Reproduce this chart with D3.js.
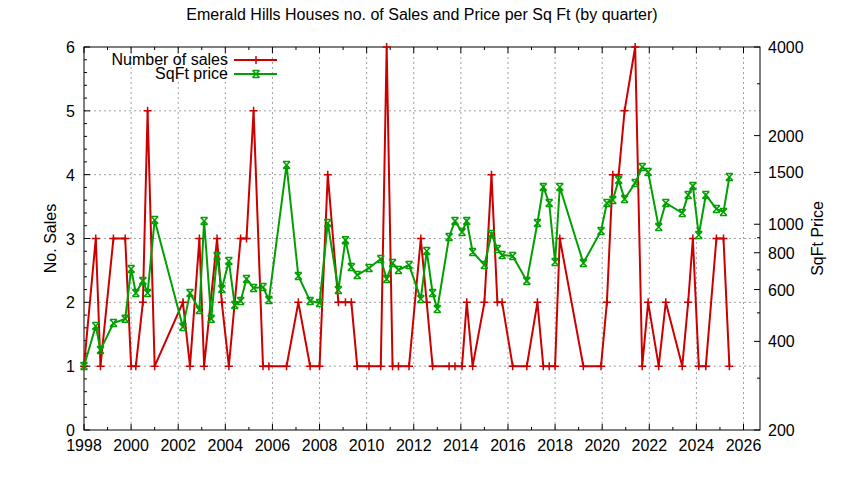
<!DOCTYPE html>
<html><head><meta charset="utf-8">
<script src="https://cdn.jsdelivr.net/npm/d3@7"></script>
<style>body{margin:0;background:#fff}text{font-family:"Liberation Sans",Arial,sans-serif}</style>
</head><body>
<script>
// sales per quarter (decimal year, count)
const saleDates = [1998.0,1998.5,1998.7,1999.25,1999.75,2000.0,2000.2,2000.5,2000.7,2001.0,2002.2,2002.5,2002.9,2003.1,2003.65,2003.85,2004.15,2004.65,2004.9,2005.2,2005.6,2005.85,2006.6,2007.1,2007.6,2008.0,2008.35,2008.8,2009.1,2009.35,2009.6,2010.1,2010.6,2010.85,2011.1,2011.35,2011.8,2012.3,2012.55,2012.8,2013.5,2013.75,2014.05,2014.25,2014.5,2015.0,2015.3,2015.55,2015.75,2016.2,2016.8,2017.25,2017.5,2017.75,2018.0,2018.2,2019.2,2019.95,2020.2,2020.45,2020.7,2020.95,2021.4,2021.7,2021.95,2022.4,2022.7,2023.4,2023.65,2023.85,2024.1,2024.4,2024.85,2025.15,2025.4];
const sales = [1,3,1,3,3,1,1,2,5,1,2,1,3,1,3,2,1,3,3,5,1,1,1,2,1,1,4,2,2,2,1,1,1,6,1,1,1,3,2,1,1,1,1,2,1,2,4,2,2,1,1,2,1,1,1,3,1,1,2,4,4,5,6,1,2,1,2,1,2,3,1,1,3,3,1];

const priceDates = [1998.0,1998.5,1998.7,1999.25,1999.75,2000.0,2000.2,2000.5,2000.7,2001.0,2002.2,2002.5,2002.9,2003.1,2003.4,2003.65,2003.85,2004.15,2004.4,2004.65,2004.9,2005.2,2005.6,2005.85,2006.6,2007.1,2007.6,2008.0,2008.35,2008.8,2009.1,2009.35,2009.6,2010.1,2010.6,2010.85,2011.1,2011.35,2011.8,2012.3,2012.55,2012.8,2013.0,2013.5,2013.75,2014.05,2014.25,2014.5,2015.0,2015.3,2015.55,2015.75,2016.2,2016.8,2017.25,2017.5,2017.75,2018.0,2018.2,2019.2,2019.95,2020.2,2020.45,2020.7,2020.95,2021.4,2021.7,2021.95,2022.4,2022.7,2023.4,2023.65,2023.85,2024.1,2024.4,2024.85,2025.15,2025.4];
const prices = [330,451,374,462,477,705,584,642,584,1034,448,584,511,1026,477,780,603,750,532,549,652,607,612,553,1590,667,549,540,1010,598,883,716,672,710,762,652,738,699,727,557,811,584,515,905,1026,941,1026,805,727,927,824,786,780,642,1010,1338,1181,744,1338,738,949,1181,1208,1413,1218,1380,1565,1505,979,1181,1092,1257,1349,919,1257,1127,1101,1447];

const xTicks = d3.range(1998, 2027, 2);
const leftTicks = [0,1,2,3,4,5,6];
const rightTicks = [200,400,600,800,1000,1500,2000,4000];

const W = 844, H = 480;
const L = 84, R = 760, T = 47, B = 430;

const svg = d3.select('body').append('svg').attr('width', W).attr('height', H);

const x = d3.scaleLinear().domain([1998, 2026.7]).range([L, R]);
const yL = d3.scaleLinear().domain([0, 6]).range([B, T]);
const yR = d3.scaleLog().domain([200, 4000]).range([B, T]);

// grid
const grid = svg.append('g').attr('stroke', '#a0a0a0').attr('stroke-dasharray', '2,3').attr('stroke-width', 1);
xTicks.slice(1).forEach(t => grid.append('line').attr('x1', x(t)).attr('x2', x(t)).attr('y1', T).attr('y2', B));
leftTicks.slice(1, -1).forEach(t => grid.append('line').attr('x1', L).attr('x2', R).attr('y1', yL(t)).attr('y2', yL(t)));

// frame
svg.append('rect').attr('x', L).attr('y', T).attr('width', R - L).attr('height', B - T)
    .attr('fill', 'none').attr('stroke', '#000');

const ticks = svg.append('g').attr('stroke', '#000');
d3.range(1998, 2027).forEach(t => {
    const len = t % 2 === 0 ? 6 : 3;
    ticks.append('line').attr('x1', x(t)).attr('x2', x(t)).attr('y1', B).attr('y2', B - len);
    ticks.append('line').attr('x1', x(t)).attr('x2', x(t)).attr('y1', T).attr('y2', T + len);
});
d3.range(0, 6.01, 0.2).forEach(t => {
    const major = Math.abs(t - Math.round(t)) < 1e-6;
    ticks.append('line').attr('x1', L).attr('x2', L + (major ? 6 : 3)).attr('y1', yL(t)).attr('y2', yL(t));
});
const rMinor = [300,500,700,900,3000];
rightTicks.forEach(t => ticks.append('line').attr('x1', R).attr('x2', R - 6).attr('y1', yR(t)).attr('y2', yR(t)));
rMinor.forEach(t => ticks.append('line').attr('x1', R).attr('x2', R - 3).attr('y1', yR(t)).attr('y2', yR(t)));

const txt = svg.append('g').attr('font-size', 16).attr('fill', '#000');
xTicks.forEach(t => txt.append('text').attr('x', x(t)).attr('y', B + 21).attr('text-anchor', 'middle').text(t));
leftTicks.forEach(t => txt.append('text').attr('x', L - 9).attr('y', yL(t) + 6).attr('text-anchor', 'end').text(t));
rightTicks.forEach(t => txt.append('text').attr('x', R + 8).attr('y', yR(t) + 6).text(t));

svg.append('text').attr('x', W / 2).attr('y', 20).attr('text-anchor', 'middle').attr('font-size', 16)
    .text('Emerald Hills Houses no. of Sales and Price per Sq Ft (by quarter)');
svg.append('text').attr('transform', `translate(56,${(T + B) / 2}) rotate(-90)`).attr('text-anchor', 'middle')
    .attr('font-size', 16).text('No. Sales');
svg.append('text').attr('transform', `translate(823,${(T + B) / 2}) rotate(-90)`).attr('text-anchor', 'middle')
    .attr('font-size', 16).text('SqFt Price');

const red = '#cc0000', green = '#00a000';

const plus = (g, cx, cy, c) => {
    g.append('path').attr('d', `M${cx - 4},${cy}H${cx + 4}M${cx},${cy - 4}V${cy + 4}`).attr('stroke', c).attr('stroke-width', 1.5);
};
const cross = (g, cx, cy, c) => {
    g.append('path').attr('d', `M${cx - 3.5},${cy - 3.5}L${cx + 3.5},${cy + 3.5}M${cx - 3.5},${cy + 3.5}L${cx + 3.5},${cy - 3.5}M${cx - 3.5},${cy - 3.5}H${cx + 3.5}M${cx - 3.5},${cy + 3.5}H${cx + 3.5}`)
        .attr('stroke', c).attr('stroke-width', 1.5);
};

const sLine = d3.line().x((d, i) => x(saleDates[i])).y(d => yL(d));
const pLine = d3.line().x((d, i) => x(priceDates[i])).y(d => yR(d));

const gs = svg.append('g');
gs.append('path').attr('d', sLine(sales)).attr('fill', 'none').attr('stroke', red).attr('stroke-width', 2);
sales.forEach((d, i) => plus(gs, x(saleDates[i]), yL(d), red));

const gp = svg.append('g');
gp.append('path').attr('d', pLine(prices)).attr('fill', 'none').attr('stroke', green).attr('stroke-width', 2);
prices.forEach((d, i) => cross(gp, x(priceDates[i]), yR(d), green));

// legend
const lg = svg.append('g').attr('font-size', 16);
lg.append('text').attr('x', 228).attr('y', 65).attr('text-anchor', 'end').text('Number of sales');
lg.append('line').attr('x1', 234).attr('x2', 277).attr('y1', 60).attr('y2', 60).attr('stroke', red).attr('stroke-width', 2);
plus(lg, 256, 60, red);
lg.append('text').attr('x', 228).attr('y', 79).attr('text-anchor', 'end').text('SqFt price');
lg.append('line').attr('x1', 234).attr('x2', 277).attr('y1', 74).attr('y2', 74).attr('stroke', green).attr('stroke-width', 2);
cross(lg, 256, 74, green);
</script>
</body></html>
